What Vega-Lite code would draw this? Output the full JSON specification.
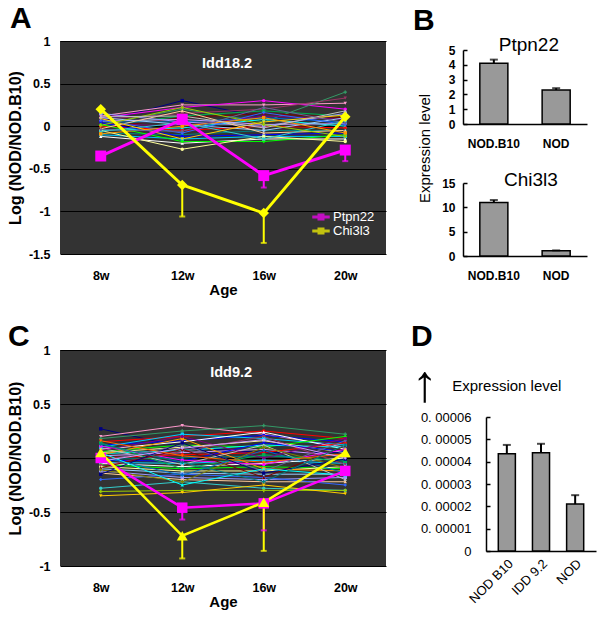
{
"$schema":"https://vega.github.io/schema/vega-lite/v6.json",
"padding":{"left":7,"top":4,"right":2,"bottom":2},
"config":{"font":"Liberation Sans","view":{"stroke":null},"axis":{"labelColor":"black","titleColor":"black","domainColor":"black","tickColor":"black"},"title":{"anchor":"start","frame":"group","fontSize":30,"fontWeight":"bold","color":"black","baseline":"alphabetic"}},
"datasets":{
"lines":[
{"p":"A","g":"a1","a":8,"v":0.05},{"p":"A","g":"a1","a":12,"v":0.30},{"p":"A","g":"a1","a":16,"v":0.10},{"p":"A","g":"a1","a":20,"v":0.05},
{"p":"A","g":"a2","a":8,"v":0.12},{"p":"A","g":"a2","a":12,"v":0.25},{"p":"A","g":"a2","a":16,"v":0.25},{"p":"A","g":"a2","a":20,"v":0.27},
{"p":"A","g":"a3","a":8,"v":0.10},{"p":"A","g":"a3","a":12,"v":0.22},{"p":"A","g":"a3","a":16,"v":0.30},{"p":"A","g":"a3","a":20,"v":0.20},
{"p":"A","g":"a4","a":8,"v":0.02},{"p":"A","g":"a4","a":12,"v":0.20},{"p":"A","g":"a4","a":16,"v":0.05},{"p":"A","g":"a4","a":20,"v":0.40},
{"p":"A","g":"a5","a":8,"v":0.08},{"p":"A","g":"a5","a":12,"v":0.15},{"p":"A","g":"a5","a":16,"v":0.20},{"p":"A","g":"a5","a":20,"v":0.33},
{"p":"A","g":"a6","a":8,"v":0.00},{"p":"A","g":"a6","a":12,"v":0.12},{"p":"A","g":"a6","a":16,"v":0.18},{"p":"A","g":"a6","a":20,"v":0.12},
{"p":"A","g":"a7","a":8,"v":-0.02},{"p":"A","g":"a7","a":12,"v":0.10},{"p":"A","g":"a7","a":16,"v":0.15},{"p":"A","g":"a7","a":20,"v":0.10},
{"p":"A","g":"a8","a":8,"v":0.05},{"p":"A","g":"a8","a":12,"v":0.05},{"p":"A","g":"a8","a":16,"v":0.10},{"p":"A","g":"a8","a":20,"v":0.05},
{"p":"A","g":"a9","a":8,"v":0.03},{"p":"A","g":"a9","a":12,"v":0.00},{"p":"A","g":"a9","a":16,"v":0.12},{"p":"A","g":"a9","a":20,"v":0.08},
{"p":"A","g":"a10","a":8,"v":-0.05},{"p":"A","g":"a10","a":12,"v":-0.02},{"p":"A","g":"a10","a":16,"v":0.08},{"p":"A","g":"a10","a":20,"v":0.00},
{"p":"A","g":"a11","a":8,"v":0.06},{"p":"A","g":"a11","a":12,"v":0.08},{"p":"A","g":"a11","a":16,"v":0.02},{"p":"A","g":"a11","a":20,"v":0.03},
{"p":"A","g":"a12","a":8,"v":0.00},{"p":"A","g":"a12","a":12,"v":-0.05},{"p":"A","g":"a12","a":16,"v":0.00},{"p":"A","g":"a12","a":20,"v":-0.02},
{"p":"A","g":"a13","a":8,"v":-0.08},{"p":"A","g":"a13","a":12,"v":-0.10},{"p":"A","g":"a13","a":16,"v":-0.05},{"p":"A","g":"a13","a":20,"v":-0.05},
{"p":"A","g":"a14","a":8,"v":0.04},{"p":"A","g":"a14","a":12,"v":-0.12},{"p":"A","g":"a14","a":16,"v":-0.10},{"p":"A","g":"a14","a":20,"v":-0.08},
{"p":"A","g":"a15","a":8,"v":-0.10},{"p":"A","g":"a15","a":12,"v":-0.15},{"p":"A","g":"a15","a":16,"v":-0.12},{"p":"A","g":"a15","a":20,"v":-0.12},
{"p":"A","g":"a16","a":8,"v":-0.12},{"p":"A","g":"a16","a":12,"v":-0.20},{"p":"A","g":"a16","a":16,"v":-0.15},{"p":"A","g":"a16","a":20,"v":-0.15},
{"p":"A","g":"a17","a":8,"v":0.02},{"p":"A","g":"a17","a":12,"v":-0.18},{"p":"A","g":"a17","a":16,"v":-0.18},{"p":"A","g":"a17","a":20,"v":-0.10},
{"p":"A","g":"a18","a":8,"v":-0.05},{"p":"A","g":"a18","a":12,"v":-0.27},{"p":"A","g":"a18","a":16,"v":-0.12},{"p":"A","g":"a18","a":20,"v":-0.18},
{"p":"A","g":"a19","a":8,"v":0.10},{"p":"A","g":"a19","a":12,"v":0.02},{"p":"A","g":"a19","a":16,"v":-0.05},{"p":"A","g":"a19","a":20,"v":0.10},
{"p":"A","g":"a20","a":8,"v":0.15},{"p":"A","g":"a20","a":12,"v":0.05},{"p":"A","g":"a20","a":16,"v":0.00},{"p":"A","g":"a20","a":20,"v":0.15},
{"p":"A","g":"a21","a":8,"v":-0.03},{"p":"A","g":"a21","a":12,"v":0.18},{"p":"A","g":"a21","a":16,"v":-0.08},{"p":"A","g":"a21","a":20,"v":-0.05},
{"p":"A","g":"a22","a":8,"v":0.07},{"p":"A","g":"a22","a":12,"v":-0.08},{"p":"A","g":"a22","a":16,"v":0.16},{"p":"A","g":"a22","a":20,"v":0.02},
{"p":"A","g":"a23","a":8,"v":-0.06},{"p":"A","g":"a23","a":12,"v":0.04},{"p":"A","g":"a23","a":16,"v":-0.15},{"p":"A","g":"a23","a":20,"v":0.06},
{"p":"A","g":"a24","a":8,"v":0.01},{"p":"A","g":"a24","a":12,"v":0.22},{"p":"A","g":"a24","a":16,"v":0.02},{"p":"A","g":"a24","a":20,"v":-0.12},
{"p":"A","g":"a25","a":8,"v":0.09},{"p":"A","g":"a25","a":12,"v":-0.15},{"p":"A","g":"a25","a":16,"v":0.05},{"p":"A","g":"a25","a":20,"v":0.13},
{"p":"A","g":"a26","a":8,"v":-0.09},{"p":"A","g":"a26","a":12,"v":0.00},{"p":"A","g":"a26","a":16,"v":0.10},{"p":"A","g":"a26","a":20,"v":-0.08},
{"p":"A","g":"a27","a":8,"v":0.11},{"p":"A","g":"a27","a":12,"v":0.12},{"p":"A","g":"a27","a":16,"v":-0.02},{"p":"A","g":"a27","a":20,"v":0.18},
{"p":"A","g":"a28","a":8,"v":-0.04},{"p":"A","g":"a28","a":12,"v":-0.06},{"p":"A","g":"a28","a":16,"v":0.22},{"p":"A","g":"a28","a":20,"v":0.04},
{"p":"C","g":"c1","a":8,"v":0.27},{"p":"C","g":"c1","a":12,"v":0.10},{"p":"C","g":"c1","a":16,"v":0.05},{"p":"C","g":"c1","a":20,"v":0.05},
{"p":"C","g":"c2","a":8,"v":0.20},{"p":"C","g":"c2","a":12,"v":0.30},{"p":"C","g":"c2","a":16,"v":0.22},{"p":"C","g":"c2","a":20,"v":0.10},
{"p":"C","g":"c3","a":8,"v":0.18},{"p":"C","g":"c3","a":12,"v":0.25},{"p":"C","g":"c3","a":16,"v":0.30},{"p":"C","g":"c3","a":20,"v":0.22},
{"p":"C","g":"c4","a":8,"v":0.15},{"p":"C","g":"c4","a":12,"v":0.20},{"p":"C","g":"c4","a":16,"v":0.25},{"p":"C","g":"c4","a":20,"v":0.18},
{"p":"C","g":"c5","a":8,"v":0.12},{"p":"C","g":"c5","a":12,"v":0.16},{"p":"C","g":"c5","a":16,"v":0.21},{"p":"C","g":"c5","a":20,"v":0.15},
{"p":"C","g":"c6","a":8,"v":0.10},{"p":"C","g":"c6","a":12,"v":0.22},{"p":"C","g":"c6","a":16,"v":0.18},{"p":"C","g":"c6","a":20,"v":0.12},
{"p":"C","g":"c7","a":8,"v":0.08},{"p":"C","g":"c7","a":12,"v":0.15},{"p":"C","g":"c7","a":16,"v":0.24},{"p":"C","g":"c7","a":20,"v":0.08},
{"p":"C","g":"c8","a":8,"v":0.06},{"p":"C","g":"c8","a":12,"v":0.12},{"p":"C","g":"c8","a":16,"v":0.10},{"p":"C","g":"c8","a":20,"v":0.20},
{"p":"C","g":"c9","a":8,"v":0.05},{"p":"C","g":"c9","a":12,"v":0.10},{"p":"C","g":"c9","a":16,"v":0.16},{"p":"C","g":"c9","a":20,"v":0.05},
{"p":"C","g":"c10","a":8,"v":0.04},{"p":"C","g":"c10","a":12,"v":0.07},{"p":"C","g":"c10","a":16,"v":0.12},{"p":"C","g":"c10","a":20,"v":0.10},
{"p":"C","g":"c11","a":8,"v":0.02},{"p":"C","g":"c11","a":12,"v":0.05},{"p":"C","g":"c11","a":16,"v":0.08},{"p":"C","g":"c11","a":20,"v":0.02},
{"p":"C","g":"c12","a":8,"v":0.00},{"p":"C","g":"c12","a":12,"v":0.03},{"p":"C","g":"c12","a":16,"v":0.05},{"p":"C","g":"c12","a":20,"v":0.14},
{"p":"C","g":"c13","a":8,"v":-0.01},{"p":"C","g":"c13","a":12,"v":0.00},{"p":"C","g":"c13","a":16,"v":0.02},{"p":"C","g":"c13","a":20,"v":-0.02},
{"p":"C","g":"c14","a":8,"v":-0.02},{"p":"C","g":"c14","a":12,"v":-0.03},{"p":"C","g":"c14","a":16,"v":0.14},{"p":"C","g":"c14","a":20,"v":0.06},
{"p":"C","g":"c15","a":8,"v":-0.04},{"p":"C","g":"c15","a":12,"v":-0.05},{"p":"C","g":"c15","a":16,"v":-0.02},{"p":"C","g":"c15","a":20,"v":-0.05},
{"p":"C","g":"c16","a":8,"v":-0.05},{"p":"C","g":"c16","a":12,"v":-0.08},{"p":"C","g":"c16","a":16,"v":-0.05},{"p":"C","g":"c16","a":20,"v":0.00},
{"p":"C","g":"c17","a":8,"v":-0.06},{"p":"C","g":"c17","a":12,"v":-0.10},{"p":"C","g":"c17","a":16,"v":-0.08},{"p":"C","g":"c17","a":20,"v":-0.10},
{"p":"C","g":"c18","a":8,"v":-0.08},{"p":"C","g":"c18","a":12,"v":-0.12},{"p":"C","g":"c18","a":16,"v":-0.12},{"p":"C","g":"c18","a":20,"v":-0.08},
{"p":"C","g":"c19","a":8,"v":-0.10},{"p":"C","g":"c19","a":12,"v":-0.14},{"p":"C","g":"c19","a":16,"v":-0.15},{"p":"C","g":"c19","a":20,"v":-0.15},
{"p":"C","g":"c20","a":8,"v":-0.12},{"p":"C","g":"c20","a":12,"v":-0.18},{"p":"C","g":"c20","a":16,"v":-0.20},{"p":"C","g":"c20","a":20,"v":-0.18},
{"p":"C","g":"c21","a":8,"v":-0.14},{"p":"C","g":"c21","a":12,"v":-0.20},{"p":"C","g":"c21","a":16,"v":-0.22},{"p":"C","g":"c21","a":20,"v":-0.22},
{"p":"C","g":"c22","a":8,"v":-0.20},{"p":"C","g":"c22","a":12,"v":-0.15},{"p":"C","g":"c22","a":16,"v":-0.18},{"p":"C","g":"c22","a":20,"v":-0.25},
{"p":"C","g":"c23","a":8,"v":-0.28},{"p":"C","g":"c23","a":12,"v":-0.22},{"p":"C","g":"c23","a":16,"v":-0.28},{"p":"C","g":"c23","a":20,"v":-0.30},
{"p":"C","g":"c24","a":8,"v":-0.31},{"p":"C","g":"c24","a":12,"v":-0.30},{"p":"C","g":"c24","a":16,"v":-0.30},{"p":"C","g":"c24","a":20,"v":-0.30},
{"p":"C","g":"c25","a":8,"v":-0.35},{"p":"C","g":"c25","a":12,"v":-0.32},{"p":"C","g":"c25","a":16,"v":-0.25},{"p":"C","g":"c25","a":20,"v":-0.33},
{"p":"C","g":"c26","a":8,"v":0.03},{"p":"C","g":"c26","a":12,"v":0.18},{"p":"C","g":"c26","a":16,"v":-0.10},{"p":"C","g":"c26","a":20,"v":-0.12},
{"p":"C","g":"c27","a":8,"v":0.09},{"p":"C","g":"c27","a":12,"v":-0.06},{"p":"C","g":"c27","a":16,"v":0.12},{"p":"C","g":"c27","a":20,"v":-0.20},
{"p":"C","g":"c28","a":8,"v":-0.03},{"p":"C","g":"c28","a":12,"v":0.12},{"p":"C","g":"c28","a":16,"v":-0.12},{"p":"C","g":"c28","a":20,"v":0.16},
{"p":"C","g":"c29","a":8,"v":0.11},{"p":"C","g":"c29","a":12,"v":-0.02},{"p":"C","g":"c29","a":16,"v":-0.06},{"p":"C","g":"c29","a":20,"v":0.08},
{"p":"C","g":"c30","a":8,"v":-0.07},{"p":"C","g":"c30","a":12,"v":0.06},{"p":"C","g":"c30","a":16,"v":0.20},{"p":"C","g":"c30","a":20,"v":-0.06},
{"p":"C","g":"c31","a":8,"v":0.14},{"p":"C","g":"c31","a":12,"v":-0.10},{"p":"C","g":"c31","a":16,"v":0.03},{"p":"C","g":"c31","a":20,"v":-0.03},
{"p":"C","g":"c32","a":8,"v":-0.09},{"p":"C","g":"c32","a":12,"v":0.08},{"p":"C","g":"c32","a":16,"v":-0.18},{"p":"C","g":"c32","a":20,"v":0.11},
{"p":"C","g":"c33","a":8,"v":0.01},{"p":"C","g":"c33","a":12,"v":-0.16},{"p":"C","g":"c33","a":16,"v":0.07},{"p":"C","g":"c33","a":20,"v":-0.14},
{"p":"C","g":"c34","a":8,"v":0.07},{"p":"C","g":"c34","a":12,"v":0.20},{"p":"C","g":"c34","a":16,"v":0.00},{"p":"C","g":"c34","a":20,"v":0.18},
{"p":"C","g":"c35","a":8,"v":-0.11},{"p":"C","g":"c35","a":12,"v":-0.22},{"p":"C","g":"c35","a":16,"v":0.10},{"p":"C","g":"c35","a":20,"v":-0.09},
{"p":"C","g":"c36","a":8,"v":0.16},{"p":"C","g":"c36","a":12,"v":0.02},{"p":"C","g":"c36","a":16,"v":-0.04},{"p":"C","g":"c36","a":20,"v":0.04},
{"p":"C","g":"c37","a":8,"v":-0.15},{"p":"C","g":"c37","a":12,"v":0.14},{"p":"C","g":"c37","a":16,"v":-0.14},{"p":"C","g":"c37","a":20,"v":-0.01},
{"p":"C","g":"c38","a":8,"v":0.05},{"p":"C","g":"c38","a":12,"v":-0.25},{"p":"C","g":"c38","a":16,"v":-0.10},{"p":"C","g":"c38","a":20,"v":-0.16},
{"p":"C","g":"c39","a":8,"v":-0.03},{"p":"C","g":"c39","a":12,"v":0.09},{"p":"C","g":"c39","a":16,"v":0.17},{"p":"C","g":"c39","a":20,"v":0.00},
{"p":"C","g":"c40","a":8,"v":0.13},{"p":"C","g":"c40","a":12,"v":-0.04},{"p":"C","g":"c40","a":16,"v":-0.22},{"p":"C","g":"c40","a":20,"v":0.12}
],
"hl":[
{"p":"A","g":"Ptpn22","a":8,"v":-0.35,"lo":null},{"p":"A","g":"Ptpn22","a":12,"v":0.08,"lo":null},{"p":"A","g":"Ptpn22","a":16,"v":-0.58,"lo":-0.72},{"p":"A","g":"Ptpn22","a":20,"v":-0.28,"lo":-0.41},
{"p":"A","g":"Chi3l3","a":8,"v":0.2,"lo":null},{"p":"A","g":"Chi3l3","a":12,"v":-0.69,"lo":-1.06},{"p":"A","g":"Chi3l3","a":16,"v":-1.02,"lo":-1.37},{"p":"A","g":"Chi3l3","a":20,"v":0.11,"lo":null},
{"p":"C","g":"Ptpn22","a":8,"v":0.0,"lo":null},{"p":"C","g":"Ptpn22","a":12,"v":-0.46,"lo":-0.57},{"p":"C","g":"Ptpn22","a":16,"v":-0.42,"lo":-0.67},{"p":"C","g":"Ptpn22","a":20,"v":-0.12,"lo":null},
{"p":"C","g":"Chi3l3","a":8,"v":0.05,"lo":null},{"p":"C","g":"Chi3l3","a":12,"v":-0.72,"lo":-0.93},{"p":"C","g":"Chi3l3","a":16,"v":-0.41,"lo":-0.86},{"p":"C","g":"Chi3l3","a":20,"v":0.05,"lo":null}
],
"bars":[
{"gene":"Ptpn22","strain":"NOD.B10","v":4.1,"hi":4.35},{"gene":"Ptpn22","strain":"NOD","v":2.3,"hi":2.42},
{"gene":"Chi3l3","strain":"NOD.B10","v":11.0,"hi":11.5},{"gene":"Chi3l3","strain":"NOD","v":1.1,"hi":1.15}
],
"dbars":[
{"s":"NOD B10","v":0.0000435,"hi":0.0000475},{"s":"IDD 9.2","v":0.000044,"hi":0.000048},{"s":"NOD","v":0.000021,"hi":0.000025}
]
},
"align":"none",
"resolve":{"scale":{"color":"independent","stroke":"independent","fill":"independent","shape":"independent"},"legend":{"color":"independent"}},
"spacing":24,
"vconcat":[
{
"align":"none",
"resolve":{"scale":{"color":"independent","stroke":"independent","fill":"independent","shape":"independent"},"legend":{"color":"independent"}},
"spacing":27,
"hconcat":[
{
"width":326,"height":213,
"view":{"fill":"#333333","stroke":null},
"title":{"text":"A","dx":-50,"offset":1},
"encoding":{
"x":{"field":"a","type":"quantitative","scale":{"domain":[6,22]},"axis":{"values":[8,12,16,20],"labelExpr":"datum.value + 'w'","grid":false,"domain":false,"ticks":false,"tickSize":0,"labelFontSize":12.5,"labelFontWeight":"bold","labelPadding":15,"title":"Age","titleFontSize":15,"titleFontWeight":"bold","titlePadding":1}},
"y":{"field":"v","type":"quantitative","scale":{"domain":[-1.5,1]},"axis":{"values":[-1.5,-1,-0.5,0,0.5,1],"labelExpr":"datum.value < 0 ? '-' + format(-datum.value, '~g') : format(datum.value, '~g')","grid":true,"gridColor":"#000000","gridWidth":1,"domain":false,"ticks":false,"tickSize":0,"labelFontSize":12.5,"labelFontWeight":"bold","labelPadding":10,"title":"Log (NOD/NOD.B10)","titleFontSize":16,"titleFontWeight":"bold","titlePadding":5}}
},
"layer":[
{"mark":{"type":"rule","color":"#ff1010","strokeWidth":1.2},"encoding":{"y":{"datum":0}}},
{"data":{"name":"lines"},"transform":[{"filter":"datum.p === 'A'"}],"mark":{"type":"line","strokeWidth":1},"encoding":{"detail":{"field":"g"},"stroke":{"field":"g","type":"nominal","legend":null,"scale":{"range":["#000080","#00FFFF","#CC99FF","#FF0000","#008080","#0000FF","#00CCFF","#FFFFFF","#00FF00","#FFFF99","#99CCFF","#FF99CC","#9999FF","#FFCC99","#3366FF","#33CCCC","#99CC00","#FFCC00","#FF9900","#C0C0C0","#666699","#FF00FF","#339966","#993366","#00B050","#800000","#0070C0","#800080","#808000","#FF6600"]}}}},
{"data":{"name":"lines"},"transform":[{"filter":"datum.p === 'A'"}],"mark":{"type":"point","filled":true,"size":12,"opacity":1},"encoding":{"fill":{"field":"g","type":"nominal","legend":null,"scale":{"range":["#000080","#00FFFF","#CC99FF","#FF0000","#008080","#0000FF","#00CCFF","#FFFFFF","#00FF00","#FFFF99","#99CCFF","#FF99CC","#9999FF","#FFCC99","#3366FF","#33CCCC","#99CC00","#FFCC00","#FF9900","#C0C0C0","#666699","#FF00FF","#339966","#993366","#00B050","#800000","#0070C0","#800080","#808000","#FF6600"]}},"shape":{"field":"g","type":"nominal","legend":null,"scale":{"range":["square","triangle-up","diamond","circle","cross","triangle-down"]}}}},
{"data":{"name":"hl"},"transform":[{"filter":"datum.p === 'A' && isValid(datum.lo)"}],"mark":{"type":"rule","strokeWidth":2},"encoding":{"y2":{"field":"lo"},"color":{"field":"g","type":"nominal","scale":{"domain":["Ptpn22","Chi3l3"],"range":["#FF00FF","#FFFF00"]}}}},
{"data":{"name":"hl"},"transform":[{"filter":"datum.p === 'A' && isValid(datum.lo)"}],"mark":{"type":"tick","orient":"horizontal","size":6,"thickness":2},"encoding":{"y":{"field":"lo","type":"quantitative"},"color":{"field":"g","type":"nominal"}}},
{"data":{"name":"hl"},"transform":[{"filter":"datum.p === 'A'"}],"mark":{"type":"line","strokeWidth":3},"encoding":{"color":{"field":"g","type":"nominal"}}},
{"data":{"name":"hl"},"transform":[{"filter":"datum.p === 'A' && datum.g === 'Chi3l3'"}],"mark":{"type":"point","shape":"diamond","filled":true,"size":110,"opacity":1},"encoding":{"color":{"field":"g","type":"nominal"}}},
{"data":{"name":"hl"},"transform":[{"filter":"datum.p === 'A' && datum.g === 'Ptpn22'"}],"mark":{"type":"point","shape":"square","filled":true,"size":120,"opacity":1},"encoding":{"color":{"field":"g","type":"nominal","legend":{"orient":"none","legendX":254,"legendY":169,"title":null,"labelColor":"white","labelFontSize":13,"symbolType":"M-1.25,-0.22H1.25V0.22H-1.25Z M-0.5,-0.5H0.5V0.5H-0.5Z","symbolSize":196,"symbolStrokeWidth":0,"rowPadding":0,"labelOffset":5}}}},
{"data":{"values":[{"t":"Idd18.2","a":14.2,"v":0.73}]},"mark":{"type":"text","color":"white","fontSize":14.5,"fontWeight":"bold","align":"center","baseline":"middle"},"encoding":{"text":{"field":"t"}}}
]
},
{
"spacing":8,
"bounds":"flush",
"vconcat":[
{"width":1,"height":1,"data":{"values":[]},"mark":"point"},
{
"spacing":59,
"bounds":"flush",
"vconcat":[
{
"width":124,"height":74,
"title":{"text":"B","dx":-50,"offset":0},
"data":{"name":"bars"},
"transform":[{"filter":"datum.gene === 'Ptpn22'"}],
"encoding":{
"x":{"field":"strain","type":"nominal","sort":["NOD.B10","NOD"],"scale":{"paddingInner":0.55,"paddingOuter":0.27},"axis":{"title":null,"labelAngle":0,"labelFontSize":12,"labelFontWeight":"bold","ticks":false,"tickSize":0,"labelPadding":14,"domainWidth":1.5}},
"y":{"field":"v","type":"quantitative","scale":{"domain":[0,5]},"axis":{"values":[0,1,2,3,4,5],"labelOverlap":false,"grid":false,"labelFontSize":12,"labelFontWeight":"bold","tickSize":-4,"tickWidth":1.5,"labelPadding":12,"domainWidth":1.5,"title":"Expression level","titleFontSize":15,"titleFontWeight":"normal","titleX":-31,"titleY":98}}
},
"layer":[
{"mark":{"type":"bar","fill":"#999999","stroke":"black","strokeWidth":1.5}},
{"mark":{"type":"rule","strokeWidth":2,"color":"black"},"encoding":{"y2":{"field":"hi"}}},
{"mark":{"type":"tick","orient":"horizontal","size":8,"thickness":2,"color":"black"},"encoding":{"y":{"field":"hi","type":"quantitative"}}},
{"data":{"values":[{"t":"Ptpn22","strain":"NOD.B10","v":4.95}]},"mark":{"type":"text","fontSize":19,"baseline":"alphabetic","align":"center","dx":35},"encoding":{"text":{"field":"t"}}}
]
},
{
"width":124,"height":73,
"data":{"name":"bars"},
"transform":[{"filter":"datum.gene === 'Chi3l3'"}],
"encoding":{
"x":{"field":"strain","type":"nominal","sort":["NOD.B10","NOD"],"scale":{"paddingInner":0.55,"paddingOuter":0.27},"axis":{"title":null,"labelAngle":0,"labelFontSize":12,"labelFontWeight":"bold","ticks":false,"tickSize":0,"labelPadding":14,"domainWidth":1.5}},
"y":{"field":"v","type":"quantitative","scale":{"domain":[0,15]},"axis":{"values":[0,5,10,15],"labelOverlap":false,"grid":false,"labelFontSize":12,"labelFontWeight":"bold","tickSize":-4,"tickWidth":1.5,"labelPadding":12,"domainWidth":1.5,"title":null}}
},
"layer":[
{"mark":{"type":"bar","fill":"#999999","stroke":"black","strokeWidth":1.5}},
{"mark":{"type":"rule","strokeWidth":2,"color":"black"},"encoding":{"y2":{"field":"hi"}}},
{"mark":{"type":"tick","orient":"horizontal","size":8,"thickness":2,"color":"black"},"encoding":{"y":{"field":"hi","type":"quantitative"}}},
{"data":{"values":[{"t":"Chi3l3","strain":"NOD.B10","v":14.4}]},"mark":{"type":"text","fontSize":19,"baseline":"alphabetic","align":"center","dx":37},"encoding":{"text":{"field":"t"}}}
]
}
]
}
]
}
]
},
{
"align":"none",
"resolve":{"scale":{"color":"independent","stroke":"independent","fill":"independent","shape":"independent"},"legend":{"color":"independent"}},
"spacing":25,
"hconcat":[
{
"width":326,"height":216,
"view":{"fill":"#333333","stroke":null},
"title":{"text":"C","dx":-52,"offset":-8},
"encoding":{
"x":{"field":"a","type":"quantitative","scale":{"domain":[6,22]},"axis":{"values":[8,12,16,20],"labelExpr":"datum.value + 'w'","grid":false,"domain":false,"ticks":false,"tickSize":0,"labelFontSize":12.5,"labelFontWeight":"bold","labelPadding":15,"title":"Age","titleFontSize":15,"titleFontWeight":"bold","titlePadding":1}},
"y":{"field":"v","type":"quantitative","scale":{"domain":[-1,1]},"axis":{"values":[-1,-0.5,0,0.5,1],"labelExpr":"datum.value < 0 ? '-' + format(-datum.value, '~g') : format(datum.value, '~g')","grid":true,"gridColor":"#000000","gridWidth":1,"domain":false,"ticks":false,"tickSize":0,"labelFontSize":12.5,"labelFontWeight":"bold","labelPadding":10,"title":"Log (NOD/NOD.B10)","titleFontSize":16,"titleFontWeight":"bold","titlePadding":5}}
},
"layer":[
{"mark":{"type":"rule","color":"#b00000","strokeWidth":1.5},"encoding":{"y":{"datum":0}}},
{"data":{"name":"lines"},"transform":[{"filter":"datum.p === 'C'"}],"mark":{"type":"line","strokeWidth":1},"encoding":{"detail":{"field":"g"},"stroke":{"field":"g","type":"nominal","legend":null,"scale":{"range":["#000080","#00FFFF","#CC99FF","#FF0000","#008080","#0000FF","#00CCFF","#FFFFFF","#00FF00","#FFFF99","#99CCFF","#FF99CC","#9999FF","#FFCC99","#3366FF","#33CCCC","#99CC00","#FFCC00","#FF9900","#C0C0C0","#666699","#FF00FF","#339966","#993366","#00B050","#800000","#0070C0","#800080","#808000","#FF6600"]}}}},
{"data":{"name":"lines"},"transform":[{"filter":"datum.p === 'C'"}],"mark":{"type":"point","filled":true,"size":12,"opacity":1},"encoding":{"fill":{"field":"g","type":"nominal","legend":null,"scale":{"range":["#000080","#00FFFF","#CC99FF","#FF0000","#008080","#0000FF","#00CCFF","#FFFFFF","#00FF00","#FFFF99","#99CCFF","#FF99CC","#9999FF","#FFCC99","#3366FF","#33CCCC","#99CC00","#FFCC00","#FF9900","#C0C0C0","#666699","#FF00FF","#339966","#993366","#00B050","#800000","#0070C0","#800080","#808000","#FF6600"]}},"shape":{"field":"g","type":"nominal","legend":null,"scale":{"range":["square","triangle-up","diamond","circle","cross","triangle-down"]}}}},
{"data":{"name":"hl"},"transform":[{"filter":"datum.p === 'C' && isValid(datum.lo)"}],"mark":{"type":"rule","strokeWidth":2},"encoding":{"y2":{"field":"lo"},"color":{"field":"g","type":"nominal","legend":null,"scale":{"domain":["Ptpn22","Chi3l3"],"range":["#FF00FF","#FFFF00"]}}}},
{"data":{"name":"hl"},"transform":[{"filter":"datum.p === 'C' && isValid(datum.lo)"}],"mark":{"type":"tick","orient":"horizontal","size":6,"thickness":2},"encoding":{"y":{"field":"lo","type":"quantitative"},"color":{"field":"g","type":"nominal","legend":null}}},
{"data":{"name":"hl"},"transform":[{"filter":"datum.p === 'C'"}],"mark":{"type":"line","strokeWidth":2.5},"encoding":{"color":{"field":"g","type":"nominal","legend":null}}},
{"data":{"name":"hl"},"transform":[{"filter":"datum.p === 'C' && datum.g === 'Ptpn22'"}],"mark":{"type":"point","shape":"square","filled":true,"size":110,"opacity":1},"encoding":{"color":{"field":"g","type":"nominal","legend":null}}},
{"data":{"name":"hl"},"transform":[{"filter":"datum.p === 'C' && datum.g === 'Chi3l3'"}],"mark":{"type":"point","shape":"triangle-up","filled":true,"size":120,"opacity":1},"encoding":{"color":{"field":"g","type":"nominal","legend":null}}},
{"data":{"values":[{"t":"Idd9.2","a":14.4,"v":0.79}]},"mark":{"type":"text","color":"white","fontSize":14.5,"fontWeight":"bold","align":"center","baseline":"middle"},"encoding":{"text":{"field":"t"}}}
]
},
{
"spacing":66,
"bounds":"flush",
"vconcat":[
{"width":1,"height":1,"data":{"values":[]},"mark":"point"},
{
"width":110,"height":134,
"title":{"text":"D","dx":-75,"offset":7},
"data":{"name":"dbars"},
"encoding":{
"x":{"field":"s","type":"nominal","sort":["NOD B10","IDD 9.2","NOD"],"scale":{"paddingInner":0.5,"paddingOuter":0.36},"axis":{"title":null,"labelAngle":-45,"labelFontSize":13,"ticks":false,"tickSize":0,"labelPadding":6,"domainWidth":1.5}},
"y":{"field":"v","type":"quantitative","scale":{"domain":[0,0.00006]},"axis":{"values":[0,0.00001,0.00002,0.00003,0.00004,0.00005,0.00006],"labelOverlap":false,"labelExpr":"datum.value == 0 ? '0' : '0. ' + slice(format(datum.value, '.5f'), 2)","grid":false,"labelFontSize":13,"tickSize":-4,"tickWidth":1.5,"labelPadding":19,"domainWidth":1.5,"title":null}}
},
"layer":[
{"mark":{"type":"bar","fill":"#999999","stroke":"black","strokeWidth":1.5}},
{"mark":{"type":"rule","strokeWidth":2,"color":"black"},"encoding":{"y2":{"field":"hi"}}},
{"mark":{"type":"tick","orient":"horizontal","size":8,"thickness":2,"color":"black"},"encoding":{"y":{"field":"hi","type":"quantitative"}}},
{"data":{"values":[{"t":"Expression level","s":"NOD B10","v":0.0000739}]},"mark":{"type":"text","fontSize":15,"baseline":"middle","align":"center"},"encoding":{"text":{"field":"t"}}},
{"data":{"values":[{"t":"↑","s":"NOD B10","v":0.0000742}]},"mark":{"type":"text","fontSize":52,"baseline":"middle","align":"center","dx":-82},"encoding":{"text":{"field":"t"}}}
]
}
]
}
]
}
]
}
